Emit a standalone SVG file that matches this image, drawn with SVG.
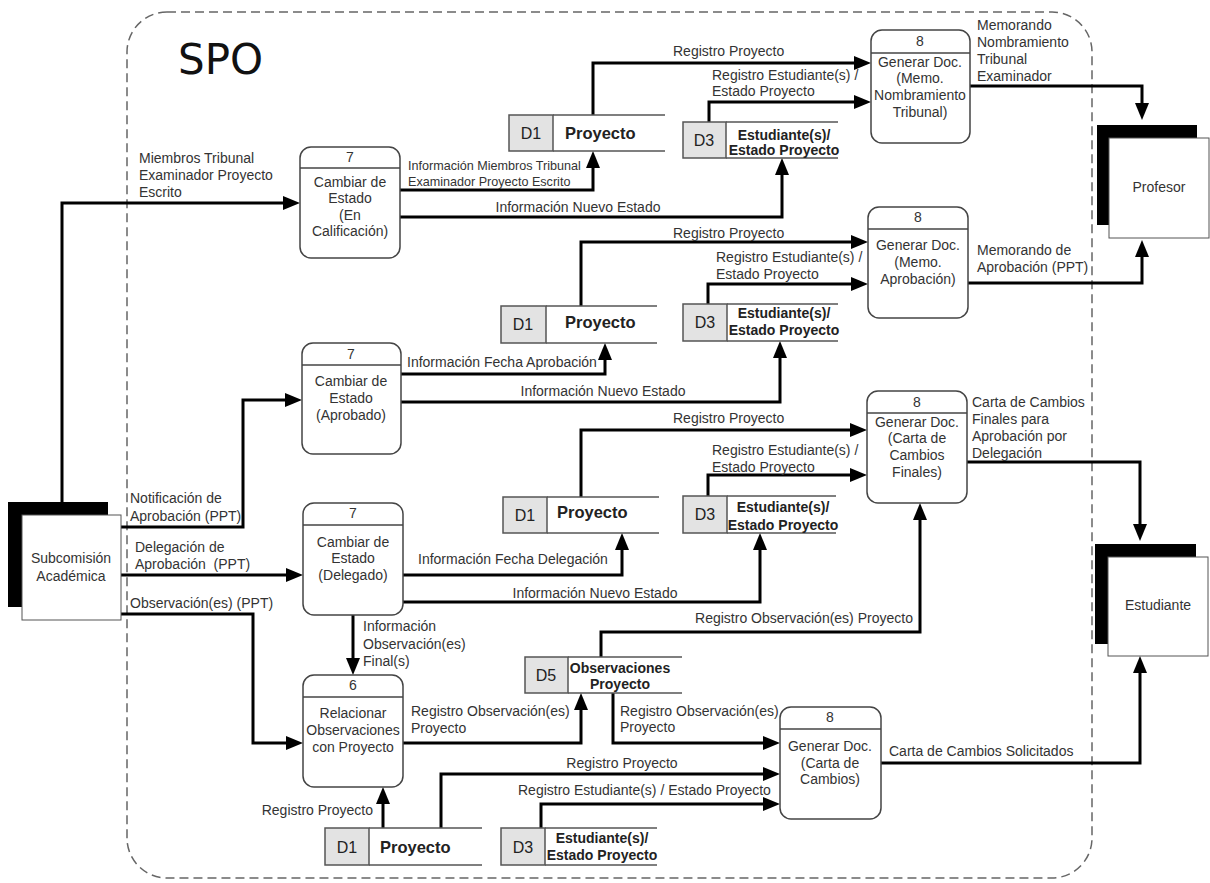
<svg xmlns="http://www.w3.org/2000/svg" width="1210" height="883" viewBox="0 0 1210 883">
<style>
text{font-family:"Liberation Sans",Arial,sans-serif;fill:#333;}
.l{font-size:14px;}
.s{font-size:12.6px;}
.c{text-anchor:middle;}
.p{font-size:14px;text-anchor:middle;}
.b{font-size:14px;font-weight:bold;text-anchor:middle;fill:#222;}
.bp{font-size:16.5px;font-weight:bold;fill:#222;}
.id{font-size:16px;text-anchor:middle;fill:#222;}
.box{fill:#fff;stroke:#444;stroke-width:1.5;}
.hd{stroke:#444;stroke-width:1.5;}
.ds{fill:none;stroke:#555;stroke-width:1.5;}
.dg{fill:#e3e3e3;stroke:#555;stroke-width:1.5;}
.sh{fill:#000;}
.ew{fill:#fff;stroke:#555;stroke-width:1;}
.cn path{fill:none;stroke:#000;stroke-width:3;marker-end:url(#ah);}
</style>
<defs>
<marker id="ah" markerUnits="userSpaceOnUse" markerWidth="18" markerHeight="15" refX="7" refY="7" orient="auto">
<path d="M0,0 L17,7 L0,14 z" fill="#000"/>
</marker>
</defs>
<rect width="1210" height="883" fill="#fff"/>
<g id="boundary">
<rect x="127" y="12" width="965" height="866" rx="40" ry="40" fill="none" stroke="#666" stroke-width="1.5" stroke-dasharray="9,5"/>
<text x="178" y="74" style="font-family:'DejaVu Sans',Verdana,sans-serif;font-size:42px;fill:#111;">SPO</text>
</g>
<g class="cn" id="connectors">
<path d="M62,502 V203 H290"/>
<path d="M121,527 H243 V400 H292"/>
<path d="M121,575 H293"/>
<path d="M121,614 H253 V743 H293"/>
<path d="M400,190 H593 V161"/>
<path d="M400,217 H782 V168"/>
<path d="M593,115 V63 H861"/>
<path d="M709,122 V102 H861"/>
<path d="M970,86 H1142 V110"/>
<path d="M401,374 H605 V353"/>
<path d="M401,402 H780 V351"/>
<path d="M581,306 V242 H858"/>
<path d="M708,304 V284 H858"/>
<path d="M968,283 H1142 V250"/>
<path d="M581,497 V430 H857"/>
<path d="M708,496 V475 H857"/>
<path d="M967,462 H1140 V531"/>
<path d="M403,575 H622 V543"/>
<path d="M403,602 H760 V543"/>
<path d="M353,615 V665"/>
<path d="M403,743 H581 V703"/>
<path d="M383,828 V797"/>
<path d="M601,657 V632 H920 V513"/>
<path d="M613,693 V743 H770"/>
<path d="M441,828 V774 H770"/>
<path d="M541,828 V804 H770"/>
<path d="M881,763 H1140 V666"/>
</g>
<g id="labels">
<text class="l" x="139" y="163">Miembros Tribunal</text>
<text class="l" x="139" y="180">Examinador Proyecto</text>
<text class="l" x="139" y="197">Escrito</text>
<text class="l" x="130" y="503">Notificación de</text>
<text class="l" x="130" y="521">Aprobación (PPT)</text>
<text class="l" x="135" y="552">Delegación de</text>
<text class="l" x="135" y="569" xml:space="preserve">Aprobación  (PPT)</text>
<text class="l" x="130" y="608">Observación(es) (PPT)</text>
<text class="s" x="408" y="170">Información Miembros Tribunal</text>
<text class="s" x="408" y="186">Examinador Proyecto Escrito</text>
<text class="l c" x="578" y="212">Información Nuevo Estado</text>
<text class="l" x="673" y="56">Registro Proyecto</text>
<text class="l" x="712" y="80">Registro Estudiante(s) /</text>
<text class="l" x="712" y="96">Estado Proyecto</text>
<text class="l" x="977" y="30">Memorando</text>
<text class="l" x="977" y="47">Nombramiento</text>
<text class="l" x="977" y="64">Tribunal</text>
<text class="l" x="977" y="81">Examinador</text>
<text class="l" x="673" y="238">Registro Proyecto</text>
<text class="l" x="716" y="262">Registro Estudiante(s) /</text>
<text class="l" x="716" y="279">Estado Proyecto</text>
<text class="l" x="977" y="255">Memorando de</text>
<text class="l" x="977" y="272">Aprobación (PPT)</text>
<text class="l" x="407" y="367">Información Fecha Aprobación</text>
<text class="l c" x="603" y="396">Información Nuevo Estado</text>
<text class="l" x="673" y="423">Registro Proyecto</text>
<text class="l" x="712" y="455">Registro Estudiante(s) /</text>
<text class="l" x="712" y="472">Estado Proyecto</text>
<text class="l" x="972" y="407">Carta de Cambios</text>
<text class="l" x="972" y="424">Finales para</text>
<text class="l" x="972" y="441">Aprobación por</text>
<text class="l" x="972" y="458">Delegación</text>
<text class="l" x="418" y="564">Información Fecha Delegación</text>
<text class="l c" x="595" y="598">Información Nuevo Estado</text>
<text class="l" x="363" y="631">Información</text>
<text class="l" x="363" y="649">Observación(es)</text>
<text class="l" x="363" y="666">Final(s)</text>
<text class="l" x="411" y="716">Registro Observación(es)</text>
<text class="l" x="411" y="733">Proyecto</text>
<text class="l" x="373" y="815" text-anchor="end">Registro Proyecto</text>
<text class="l c" x="804" y="623">Registro Observación(es) Proyecto</text>
<text class="l" x="620" y="716">Registro Observación(es)</text>
<text class="l" x="620" y="732">Proyecto</text>
<text class="l c" x="622" y="768">Registro Proyecto</text>
<text class="l" x="518" y="795">Registro Estudiante(s) / Estado Proyecto</text>
<text class="l" x="889" y="756">Carta de Cambios Solicitados</text>
</g>
<g id="p7a">
<rect class="box" x="300" y="147" width="100" height="111" rx="11"/>
<line class="hd" x1="300" y1="168" x2="400" y2="168"/>
<text class="p" x="350" y="162">7</text>
<text class="p" x="350" y="187">Cambiar de</text>
<text class="p" x="350" y="203">Estado</text>
<text class="p" x="350" y="220">(En</text>
<text class="p" x="350" y="236">Calificación)</text>
</g>
<g id="p7b">
<rect class="box" x="302" y="343" width="99" height="111" rx="11"/>
<line class="hd" x1="302" y1="365" x2="401" y2="365"/>
<text class="p" x="351" y="359">7</text>
<text class="p" x="351" y="386">Cambiar de</text>
<text class="p" x="351" y="403">Estado</text>
<text class="p" x="351" y="420">(Aprobado)</text>
</g>
<g id="p7c">
<rect class="box" x="303" y="503" width="100" height="112" rx="11"/>
<line class="hd" x1="303" y1="525" x2="403" y2="525"/>
<text class="p" x="353" y="518">7</text>
<text class="p" x="353" y="547">Cambiar de</text>
<text class="p" x="353" y="563">Estado</text>
<text class="p" x="353" y="580">(Delegado)</text>
</g>
<g id="p6">
<rect class="box" x="303" y="675" width="100" height="112" rx="11"/>
<line class="hd" x1="303" y1="697" x2="403" y2="697"/>
<text class="p" x="353" y="690">6</text>
<text class="p" x="353" y="718">Relacionar</text>
<text class="p" x="353" y="735">Observaciones</text>
<text class="p" x="353" y="752">con Proyecto</text>
</g>
<g id="p8a">
<rect class="box" x="871" y="30" width="99" height="113" rx="11"/>
<line class="hd" x1="871" y1="53" x2="970" y2="53"/>
<text class="p" x="920" y="46">8</text>
<text class="p" x="920" y="67">Generar Doc.</text>
<text class="p" x="920" y="83">(Memo.</text>
<text class="p" x="920" y="100">Nombramiento</text>
<text class="p" x="920" y="117">Tribunal)</text>
</g>
<g id="p8b">
<rect class="box" x="868" y="207" width="100" height="111" rx="11"/>
<line class="hd" x1="868" y1="229" x2="968" y2="229"/>
<text class="p" x="918" y="222">8</text>
<text class="p" x="918" y="250">Generar Doc.</text>
<text class="p" x="918" y="267">(Memo.</text>
<text class="p" x="918" y="284">Aprobación)</text>
</g>
<g id="p8c">
<rect class="box" x="867" y="391" width="100" height="112" rx="11"/>
<line class="hd" x1="867" y1="413" x2="967" y2="413"/>
<text class="p" x="917" y="407">8</text>
<text class="p" x="917" y="427">Generar Doc.</text>
<text class="p" x="917" y="443">(Carta de</text>
<text class="p" x="917" y="460">Cambios</text>
<text class="p" x="917" y="477">Finales)</text>
</g>
<g id="p8d">
<rect class="box" x="780" y="707" width="101" height="112" rx="11"/>
<line class="hd" x1="780" y1="729" x2="881" y2="729"/>
<text class="p" x="830" y="722">8</text>
<text class="p" x="830" y="751">Generar Doc.</text>
<text class="p" x="830" y="768">(Carta de</text>
<text class="p" x="830" y="784">Cambios)</text>
</g>
<g id="d1a">
<rect class="dg" x="509" y="115" width="44" height="36"/>
<path class="ds" d="M553,115 H665 M553,151 H665"/>
<text class="id" x="531" y="139">D1</text>
<text class="bp" x="565" y="139">Proyecto</text>
</g>
<g id="d3a">
<rect class="dg" x="683" y="122" width="43" height="36"/>
<path class="ds" d="M726,122 H838 M726,158 H838"/>
<text class="id" x="704" y="146">D3</text>
<text class="b" x="784" y="140">Estudiante(s)/</text>
<text class="b" x="784" y="155">Estado Proyecto</text>
</g>
<g id="d1b">
<rect class="dg" x="501" y="306" width="45" height="37"/>
<path class="ds" d="M546,306 H657 M546,343 H657"/>
<text class="id" x="523" y="330">D1</text>
<text class="bp" x="565" y="328">Proyecto</text>
</g>
<g id="d3b">
<rect class="dg" x="683" y="304" width="44" height="37"/>
<path class="ds" d="M727,304 H838 M727,341 H838"/>
<text class="id" x="705" y="328">D3</text>
<text class="b" x="784" y="318">Estudiante(s)/</text>
<text class="b" x="784" y="335">Estado Proyecto</text>
</g>
<g id="d1c">
<rect class="dg" x="503" y="497" width="44" height="36"/>
<path class="ds" d="M547,497 H659 M547,533 H659"/>
<text class="id" x="525" y="521">D1</text>
<text class="bp" x="557" y="518">Proyecto</text>
</g>
<g id="d3c">
<rect class="dg" x="683" y="496" width="44" height="37"/>
<path class="ds" d="M727,496 H836 M727,533 H836"/>
<text class="id" x="705" y="520">D3</text>
<text class="b" x="783" y="512">Estudiante(s)/</text>
<text class="b" x="783" y="530">Estado Proyecto</text>
</g>
<g id="d5">
<rect class="dg" x="525" y="657" width="43" height="36"/>
<path class="ds" d="M568,657 H682 M568,693 H682"/>
<text class="id" x="546" y="681">D5</text>
<text class="b" x="620" y="673">Observaciones</text>
<text class="b" x="620" y="689">Proyecto</text>
</g>
<g id="d1d">
<rect class="dg" x="325" y="828" width="44" height="37"/>
<path class="ds" d="M369,828 H482 M369,865 H482"/>
<text class="id" x="347" y="853">D1</text>
<text class="bp" x="380" y="853">Proyecto</text>
</g>
<g id="d3d">
<rect class="dg" x="501" y="828" width="44" height="37"/>
<path class="ds" d="M545,828 H657 M545,865 H657"/>
<text class="id" x="523" y="853">D3</text>
<text class="b" x="602" y="843">Estudiante(s)/</text>
<text class="b" x="602" y="860">Estado Proyecto</text>
</g>
<g id="subcomision">
<rect class="sh" x="8" y="502" width="100" height="105"/>
<rect class="ew" x="22" y="515" width="99" height="105"/>
<text class="p" x="71" y="563">Subcomisión</text>
<text class="p" x="71" y="581">Académica</text>
</g>
<g id="profesor">
<rect class="sh" x="1097" y="125" width="100" height="100"/>
<rect class="ew" x="1109" y="138" width="100" height="100"/>
<text class="p" x="1159" y="192">Profesor</text>
</g>
<g id="estudiante">
<rect class="sh" x="1095" y="544" width="101" height="100"/>
<rect class="ew" x="1108" y="557" width="100" height="99"/>
<text class="p" x="1158" y="610">Estudiante</text>
</g>
</svg>
